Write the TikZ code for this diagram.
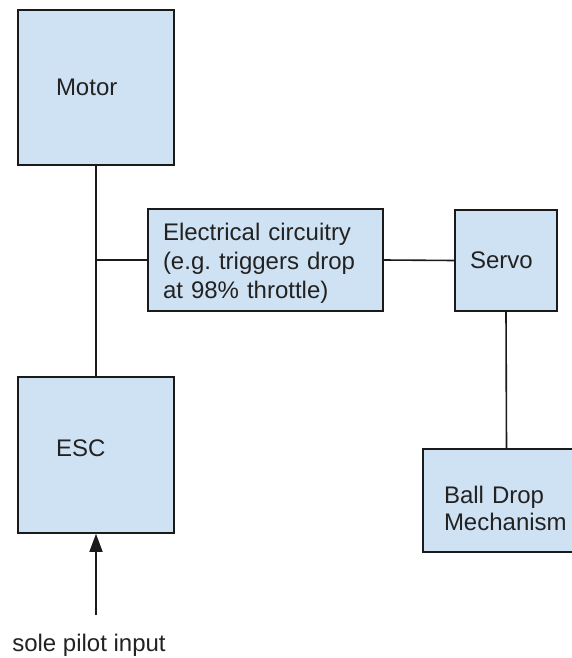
\documentclass[tikz,border=0pt]{standalone}
\usepackage{fontspec}
\setmainfont{Liberation Sans}
\usetikzlibrary{arrows.meta}
\frenchspacing
\definecolor{boxfill}{HTML}{CFE2F3}
\definecolor{boxline}{HTML}{1A1A1A}
\definecolor{txt}{HTML}{222222}
\tikzset{
  blk/.style={draw=boxline, fill=boxfill, line width=1.6pt, inner sep=0pt,
    align=left, text=txt, font=\fontsize{24}{29}\selectfont},
  wire/.style={draw=boxline, line width=1.6pt},
}
\begin{document}
\begin{tikzpicture}[x=1pt,y=-1pt]
\useasboundingbox (0,0) rectangle (572,658);
\clip (0,0) rectangle (572,658);
\node[blk, minimum width=156pt, minimum height=155pt, text width=80pt] (motor) at (96,87.5) {Motor};
\node[blk, minimum width=156pt, minimum height=156pt, text width=80pt, text depth=14pt] (esc) at (96,455) {ESC};
\node[blk, minimum width=235pt, minimum height=102pt, text width=205pt, text height=23.5pt] (elec) at (265.5,260) {Electrical circuitry\\(e.g.\ triggers drop\\at 98\% throttle)};
\node[blk, minimum width=102pt, minimum height=101pt, text width=72pt] (servo) at (506,260.5) {Servo};
\node[blk, minimum width=167pt, minimum height=103pt, text width=125pt, text height=33.5pt, font=\fontsize{24}{27}\selectfont] (ball) at (506.5,500.5) {Ball Drop\\Mechanism};
\coordinate (junc) at (motor.south |- elec.west);
\coordinate (src) at (96,615);
\node[text=txt, font=\fontsize{24}{29}\selectfont, inner sep=0pt] (lbl) at (89,645) {sole pilot input};
\draw[wire] (motor.south) -- (esc.north);
\draw[wire] (junc) -- (elec.west);
\draw[wire] (elec.east) -- (servo.west);
\draw[wire] (servo.south) -- (ball.north);
\draw[wire, -{Triangle[length=18pt,width=13pt]}] (src) -- (esc.south);
\end{tikzpicture}
\end{document}
